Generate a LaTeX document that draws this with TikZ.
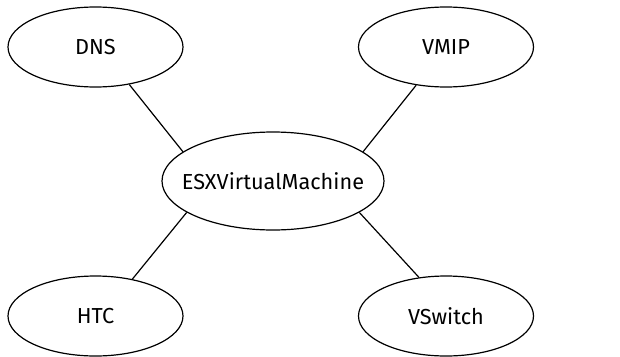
\documentclass[tikz,border=0pt]{standalone}
\usepackage{fontspec}
\setmainfont{Fira Sans}
\usetikzlibrary{shapes.geometric}
\begin{document}
\begin{tikzpicture}[x=1pt,y=-1pt,
  ent/.style={draw,ellipse,line width=1.2pt,inner sep=0pt,
    label={[font=\fontsize{21.7}{24}\selectfont,inner sep=0pt]center:#1}},
  small/.style={ent=#1,minimum width=175,minimum height=80},
  big/.style={ent=#1,minimum width=222,minimum height=98},
  link/.style={line width=1.2pt}]
\useasboundingbox (0,0) rectangle (620,356);
\node[small=DNS] (dns) at (95.5,47) {};
\node[small=VMIP] (vmip) at (446,47) {};
\node[small=HTC] (htc) at (95.5,316) {};
\node[small=VSwitch] (vsw) at (446,316) {};
\node[big=ESXVirtualMachine] (esx) at (273,181) {};
\draw[link] (dns.-48) -- (esx.162);
\draw[link] (vmip.232) -- (esx.18);
\draw[link] (htc.45) -- (esx.200);
\draw[link] (vsw.125) -- (esx.340);
\end{tikzpicture}
\end{document}
